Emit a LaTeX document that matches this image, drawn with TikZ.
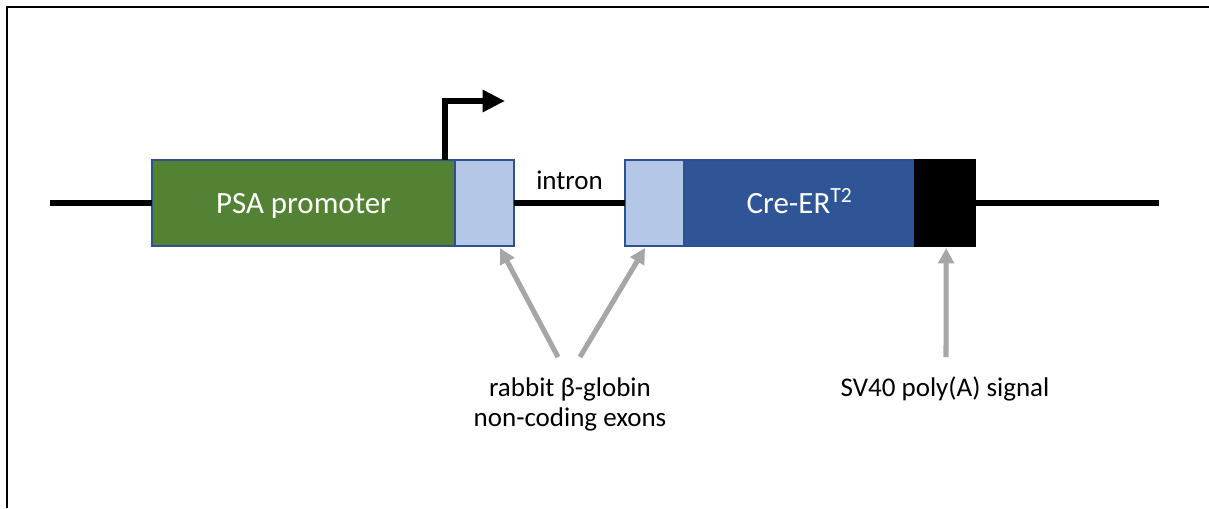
\documentclass[tikz,border=0pt]{standalone}
\usepackage{fontspec}
\setmainfont{Carlito}
\usetikzlibrary{arrows.meta, calc, positioning}
\definecolor{psagreen}{HTML}{548235}
\definecolor{exonblue}{HTML}{B4C7E7}
\definecolor{creblue}{HTML}{2F5597}
\definecolor{edgeblue}{HTML}{2F528F}
\definecolor{pointergray}{HTML}{A6A6A6}
\tikzset{
        block/.style = {draw=edgeblue, line width=1.2pt, rectangle,
            outer sep=0pt, inner sep=0pt,
            text height=19.8pt, text depth=5.5pt,
            minimum height=2.15cm},
        psabox/.style = {block, fill=psagreen, text=white,
            font=\fontsize{22}{26}\selectfont, minimum width=7.575cm},
        exonbox/.style = {block, fill=exonblue, minimum width=1.475cm},
        crebox/.style = {block, fill=creblue, text=white,
            font=\fontsize{22}{26}\selectfont, minimum width=5.775cm},
        polyabox/.style = {block, draw=black, fill=black, minimum width=1.5cm},
        backbone/.style = {draw, line width=4.6pt},
        tss/.style = {draw, line width=4.6pt, -{Triangle[length=16pt,width=15pt]}},
        pointer/.style = {draw=pointergray, line width=3.6pt,
            -{Triangle[length=11pt,width=11pt]}},
        note/.style = {font=\fontsize{19.2}{21.3}\selectfont, align=center},
}
\begin{document}
\begin{tikzpicture}[x=0.025cm, y=-0.025cm]
\useasboundingbox (0,0) rectangle (1209,508);
% frame
\draw [line width=1.4pt] (1209,7) -- (7,7) -- (7,508);

% construct
\node [psabox] (psa) at (303.5,203) {PSA promoter};
\node [exonbox, right=0pt of psa] (exonA) {};
\node [exonbox, right=2.775cm of exonA] (exonB) {};
\node [crebox, right=0pt of exonB] (cre) {Cre-ER\textsuperscript{T2}};
\node [polyabox, right=0pt of cre] (polya) {};
\coordinate (lineL) at (50,203);
\coordinate (lineR) at (1159,203);

\draw [backbone] (lineL) -- (psa);
\draw [backbone] (exonA) -- node[note, above=4pt] {intron} (exonB);
\draw [backbone] (polya) -- (lineR);

% transcription start
\draw [tss] ($(psa.north east)+(-10,0)$) |- ++(60,-59);

% labels
\node [note] (exonlabel) at (570,404) {rabbit β-globin\\non-coding exons};
\node [note, anchor=base] (polyalabel) at (945,396) {SV40 poly(A) signal};
\coordinate (tailA) at (558,357);
\coordinate (tailB) at (580,357);
\coordinate (tailC) at (946,357);
\draw [pointer] (tailA) -- ($(exonA.south east)+(-14,2)$);
\draw [pointer] (tailB) -- ($(exonB.south west)+(20,2)$);
\draw [pointer] (tailC) -- ($(polya.south)+(1,2)$);
\end{tikzpicture}
\end{document}
